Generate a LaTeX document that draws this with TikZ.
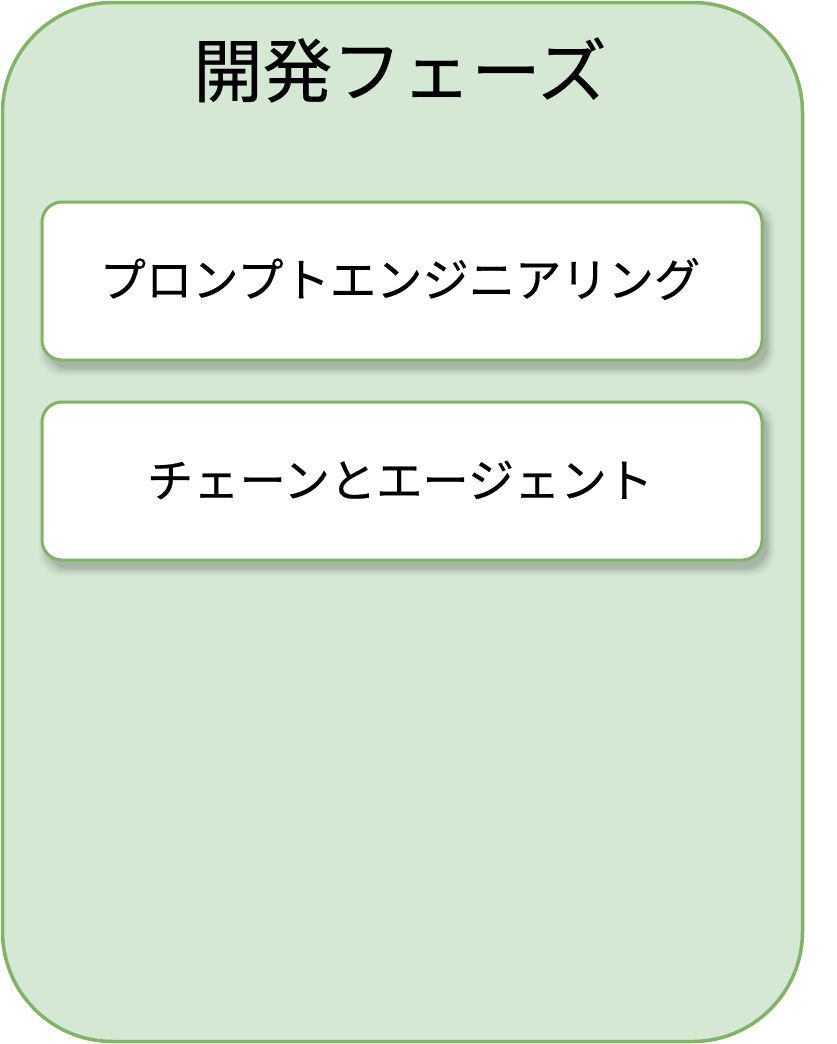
\documentclass[tikz,border=0pt]{standalone}
\usepackage{fontspec}
\newfontfamily\jp[FakeBold=0.4]{Noto Sans CJK JP}
\definecolor{phasefill}{HTML}{D5E8D4}
\definecolor{phaseline}{HTML}{82B366}
\begin{document}
\begin{tikzpicture}[x=1pt,y=1pt,
  phase/.style={draw=phaseline, fill=phasefill, line width=3.5pt, rounded corners=110pt},
  item/.style={draw=phaseline, fill=white, line width=3pt, rounded corners=20pt},
  shade/.style={fill=black, rounded corners=22pt},
  txt/.style={font=\jp\fontsize{46.3}{50}\selectfont, text=black}]
\useasboundingbox (0,0) rectangle (836,-1044);
\fill[white] (0,0) rectangle (836,-1044);
\draw[phase] (2.5,-2.5) rectangle (802.5,-1041.5);
\node[font=\jp\fontsize{69.5}{74}\selectfont] (title) at (400,-70) {開発フェーズ};
% shadows
\foreach \d/\o in {16/0.02,13/0.025,10/0.03,7/0.04,4/0.05,1/0.06}{
  \fill[shade, opacity=\o] (42+5-\d/2,-202-8+\d/2) rectangle (762+5+\d/2,-360-8-\d/2);
  \fill[shade, opacity=\o] (42+5-\d/2,-402-8+\d/2) rectangle (762+5+\d/2,-560-8-\d/2);
}
\draw[item] (42,-202) rectangle (762,-360);
\draw[item] (42,-402) rectangle (762,-560);
\node[txt] (a) at (400,-279) {プロンプトエンジニアリング};
\node[txt] (b) at (400,-480) {チェーンとエージェント};
\end{tikzpicture}
\end{document}
